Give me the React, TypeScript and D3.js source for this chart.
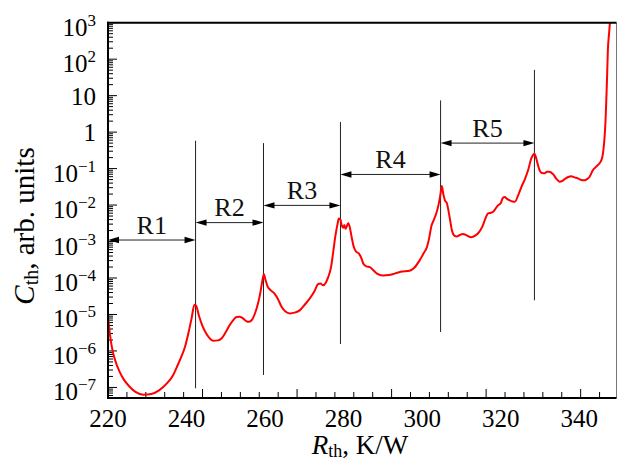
import React from "react";
import * as d3 from "d3";

// Thermal resistance (K/W) and log10 of C_th (arb. units)
const rth = [
  220.0, 220.5, 221.0, 221.8, 223.0, 224.0, 225.5, 227.0, 229.0, 231.0, 233.0, 235.0, 236.5, 237.5, 238.7, 239.6,
  240.5, 241.3, 242.0, 242.4, 243.2, 244.0, 244.8, 245.8, 246.8, 248.0, 248.9, 250.0, 251.0, 252.0, 252.7, 253.5,
  254.3, 255.2, 255.9, 256.7, 257.4, 258.2, 258.8, 259.3, 259.7, 260.1, 260.6, 261.4, 262.5, 263.3, 264.2, 265.2,
  266.3, 267.5, 268.9, 270.2, 271.4, 272.5, 273.5, 274.1, 274.8, 275.5, 276.1, 276.8, 277.3, 277.9, 278.4, 278.8,
  279.2, 279.5, 279.9, 280.2, 280.5, 280.8, 281.2, 281.6, 282.0, 282.6, 283.2, 283.9, 284.5, 285.0, 285.8, 286.7,
  287.5, 288.5, 290.0, 291.5, 293.0, 294.5, 296.8, 298.0, 299.4, 300.5, 301.1, 301.8, 302.3, 303.0, 303.6, 304.2,
  304.6, 305.0, 305.4, 305.8, 306.3, 307.0, 307.6, 308.2, 308.8, 309.6, 310.4, 311.3, 312.5, 313.5, 314.5, 315.3,
  316.0, 316.8, 317.5, 318.0, 318.7, 319.3, 320.0, 320.6, 321.0, 321.6, 322.3, 323.0, 323.6, 324.5, 325.3, 326.2,
  327.0, 327.8, 328.3, 328.6, 329.0, 329.5, 329.9, 330.5, 331.2, 331.8, 332.3, 333.3, 334.2, 335.0, 335.7, 336.3,
  337.2, 338.0, 338.8, 339.7, 340.5, 341.4, 342.0, 342.6, 343.5, 344.8, 345.5, 345.9, 346.2, 346.4, 346.7, 346.9,
  347.1, 347.3, 347.6, 347.8, 347.95,
];
const cthLog10 = [
  -5.05, -5.55, -5.9, -6.25, -6.58, -6.78, -6.98, -7.12, -7.2, -7.18, -7.08, -6.89, -6.68, -6.45, -6.15, -5.89,
  -5.5, -5.1, -4.73, -4.75, -5.05, -5.3, -5.48, -5.64, -5.72, -5.71, -5.66, -5.48, -5.29, -5.14, -5.07, -5.06,
  -5.1, -5.18, -5.2, -5.14, -4.98, -4.7, -4.4, -4.08, -3.9, -4.05, -4.22, -4.33, -4.44, -4.58, -4.79, -4.92,
  -4.97, -4.95, -4.88, -4.72, -4.56, -4.38, -4.17, -4.15, -4.2, -4.12, -3.97, -3.7, -3.33, -2.85, -2.55, -2.37,
  -2.4, -2.55, -2.62, -2.55, -2.65, -2.58, -2.5, -2.62, -2.85, -3.15, -3.28, -3.33, -3.45, -3.6, -3.68, -3.7,
  -3.78, -3.88, -3.93, -3.92, -3.88, -3.83, -3.8, -3.72, -3.51, -3.3, -3.19, -2.9, -2.6, -2.4, -2.23, -1.98,
  -1.75, -1.48, -1.7, -1.87, -1.95, -2.33, -2.7, -2.84, -2.86, -2.82, -2.79, -2.83, -2.88, -2.84, -2.74, -2.6,
  -2.4, -2.23, -2.21, -2.19, -2.1, -2.01, -1.95, -1.8, -1.78, -1.83, -1.87, -1.9, -1.91, -1.72, -1.5, -1.28,
  -1.04, -0.72, -0.62, -0.59, -0.7, -0.9, -1.04, -1.12, -1.13, -1.09, -1.09, -1.15, -1.28, -1.36, -1.34, -1.29,
  -1.23, -1.21, -1.24, -1.27, -1.31, -1.32, -1.29, -1.23, -1.04, -0.9, -0.8, -0.68, -0.45, -0.23, 0.3, 0.87,
  1.5, 2.24, 2.7, 2.98, 3.3,
];

// Regions
const regionLabels = ["R1", "R2", "R3", "R4", "R5"];
const regionStart = [220, 242.3, 259.6, 279.2, 304.7];
const regionEnd = [242.3, 259.6, 279.2, 304.7, 328.6];
const arrowLevel = [1.1e-3, 3.3e-3, 9.8e-3, 0.069, 0.5];
const boundaryTop = [0.58, 0.5, 1.9, 7.4, 51];
const boundaryBottom = [9.5e-8, 2.2e-7, 1.55e-6, 3.3e-6, 2.45e-5];

// Axis labels
const xTickLabels = [220, 240, 260, 280, 300, 320, 340];
const xTickMarkStep = 4.815; // tick marks of the original are not aligned with labels
const yTickExps = [3, 2, 1, 0, -1, -2, -3, -4, -5, -6, -7];

const W = 619;
const H = 463;
const L = 108;
const R = 616.5;
const T = 22.7;
const B = 398;
const FONT = "'Liberation Serif', 'Times New Roman', serif";

export default function App() {
  const x = d3.scaleLinear().domain([220, 349.5]).range([L, R]);
  const y = d3.scaleLog().domain([Math.pow(10, -7.29), 1e3]).range([B, T]);

  const pts: [number, number][] = rth.map((r, i) => [r, Math.pow(10, cthLog10[i])]);
  const line = d3
    .line<[number, number]>()
    .x((d) => x(d[0]))
    .y((d) => y(d[1]))
    .curve(d3.curveMonotoneX);

  const xMarks = d3.range(1, 27).map((k) => 220 + k * xTickMarkStep);
  const yMinor: number[] = [];
  for (let e = -8; e <= 2; e++) {
    for (let m = 2; m <= 9; m++) {
      const v = m * Math.pow(10, e);
      if (v >= y.domain()[0] && v <= 1e3) yMinor.push(v);
    }
  }

  const supLabel = (e: number) => {
    if (e === 0) return { base: "1", sup: null as string | null };
    if (e === 1) return { base: "10", sup: null };
    return { base: "10", sup: e < 0 ? "\u2212" + Math.abs(e) : String(e) };
  };

  return (
    <svg
      width={W}
      height={H}
      style={{ position: "absolute", left: 0, top: 0, background: "#fff" }}
      fontFamily={FONT}
    >
      <defs>
        <clipPath id="plot">
          <rect x={L} y={T} width={R - L} height={B - T} />
        </clipPath>
      </defs>
      <rect x={0} y={0} width={W} height={H} fill="#fff" />

      {/* y ticks */}
      {yTickExps.map((e) => (
        <line key={"ym" + e} x1={L} x2={L + 9} y1={y(Math.pow(10, e))} y2={y(Math.pow(10, e))} stroke="#000" strokeWidth={1} />
      ))}
      {yMinor.map((v, i) => (
        <line key={"yn" + i} x1={L} x2={L + 5} y1={y(v)} y2={y(v)} stroke="#000" strokeWidth={1} />
      ))}
      {/* x ticks */}
      {xMarks.map((v, i) => (
        <line
          key={"xm" + i}
          x1={x(v)}
          x2={x(v)}
          y1={B}
          y2={B - ((i + 1) % 5 === 0 ? 9 : 6)}
          stroke="#000"
          strokeWidth={1}
        />
      ))}

      {/* boundary lines */}
      {regionEnd.map((v, i) => (
        <line key={"b" + i} x1={x(v)} x2={x(v)} y1={y(boundaryTop[i])} y2={y(boundaryBottom[i])} stroke="#222" strokeWidth={1} />
      ))}

      {/* arrows */}
      {regionLabels.map((lab, i) => {
        const x1 = x(regionStart[i]);
        const x2 = x(regionEnd[i]);
        const yy = y(arrowLevel[i]);
        return (
          <g key={lab}>
            <line x1={x1 + 4} x2={x2 - 4} y1={yy} y2={yy} stroke="#222" strokeWidth={1} />
            <path d={`M${x1},${yy} L${x1 + 11},${yy - 3.2} L${x1 + 11},${yy + 3.2} Z`} fill="#000" />
            <path d={`M${x2},${yy} L${x2 - 11},${yy - 3.2} L${x2 - 11},${yy + 3.2} Z`} fill="#000" />
            <text x={(x1 + x2) / 2} y={yy - 6.5} textAnchor="middle" fontSize={26} fill="#111">
              {lab}
            </text>
          </g>
        );
      })}

      {/* curve */}
      <path d={line(pts) || ""} fill="none" stroke="#ff0000" strokeWidth={2} clipPath="url(#plot)" />

      {/* spines */}
      <line x1={R} x2={R} y1={T} y2={B} stroke="#777" strokeWidth={1} />
      <line x1={L - 1} x2={R} y1={T} y2={T} stroke="#000" strokeWidth={2} />
      <line x1={L - 1} x2={R} y1={B} y2={B} stroke="#000" strokeWidth={2} />
      <line x1={L} x2={L} y1={T - 1} y2={B + 1} stroke="#000" strokeWidth={2} />

      {/* x tick labels */}
      {xTickLabels.map((v) => (
        <text key={"xl" + v} x={x(v)} y={427} textAnchor="middle" fontSize={25} fill="#000">
          {v}
        </text>
      ))}

      {/* y tick labels */}
      {yTickExps.map((e) => {
        const lb = supLabel(e);
        const yy = y(Math.pow(10, e));
        return (
          <text key={"yl" + e} x={96} y={yy + (lb.sup ? 13 : 9)} textAnchor="end" fontSize={25} fill="#000">
            {lb.base}
            {lb.sup && (
              <tspan fontSize={17} dy={-10}>
                {lb.sup}
              </tspan>
            )}
          </text>
        );
      })}

      {/* axis titles */}
      <text x={360} y={454} textAnchor="middle" fontSize={27} fill="#000">
        <tspan fontStyle="italic">R</tspan>
        <tspan fontSize={18} dy={3}>th</tspan>
        <tspan dy={-3}>, K/W</tspan>
      </text>
      <text transform="translate(34,226) rotate(-90)" textAnchor="middle" fontSize={29} fill="#000">
        <tspan fontStyle="italic">C</tspan>
        <tspan fontSize={20} dy={4}>th</tspan>
        <tspan dy={-4}>, arb. units</tspan>
      </text>
    </svg>
  );
}
